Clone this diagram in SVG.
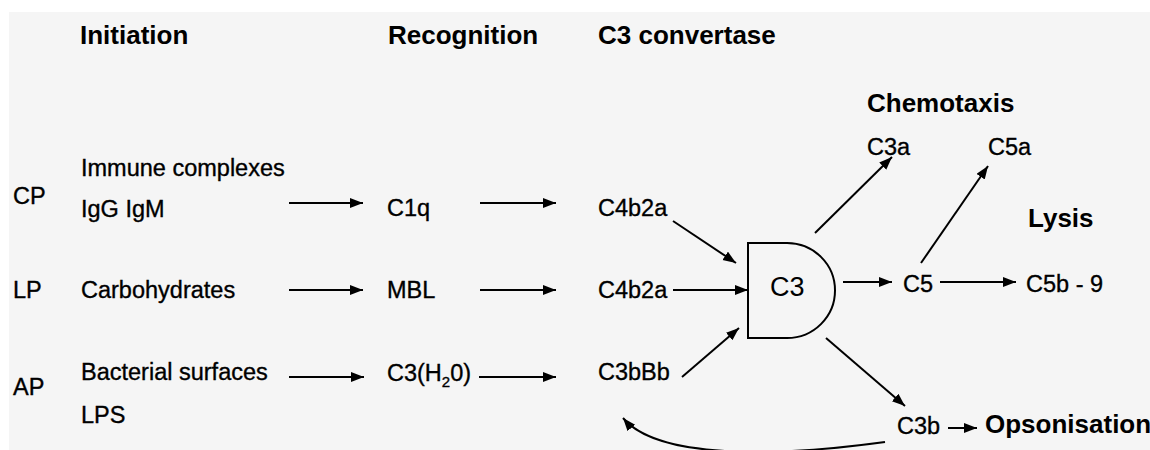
<svg xmlns="http://www.w3.org/2000/svg" width="1150" height="450" viewBox="0 0 1150 450">
<defs>
<marker id="ah" markerUnits="userSpaceOnUse" markerWidth="14" markerHeight="12" refX="13" refY="5" orient="auto">
<path d="M0,0 L13,5 L0,10 Z" fill="#000"/>
</marker>
<style>
.h{font-family:"Liberation Sans",Arial,sans-serif;font-weight:bold;font-size:26px;fill:#000}
.t{font-family:"Liberation Sans",Arial,sans-serif;font-size:23.5px;fill:#000;stroke:#000;stroke-width:0.35}
.c{fill:none;stroke:#000;stroke-width:2}
</style>
</defs>
<rect x="0" y="0" width="1150" height="450" fill="#fff"/>
<rect x="9" y="12" width="1141" height="438" fill="#f5f5f5"/>
<g id="headers">
<text class="h" x="80" y="44">Initiation</text>
<text class="h" x="388" y="44">Recognition</text>
<text class="h" x="598" y="44">C3 convertase</text>
<text class="h" x="867" y="112">Chemotaxis</text>
<text class="h" x="1028" y="227">Lysis</text>
<text class="h" x="985" y="433">Opsonisation</text>
</g>
<g id="pathways">
<text class="t" x="13" y="204">CP</text>
<text class="t" x="13" y="298">LP</text>
<text class="t" x="13" y="395">AP</text>
</g>
<g id="initiation-cp"><text class="t" x="81" y="176">Immune complexes</text><text class="t" x="81" y="217">IgG IgM</text></g>
<g id="initiation-lp"><text class="t" x="81" y="298">Carbohydrates</text></g>
<g id="initiation-ap"><text class="t" x="81" y="380">Bacterial surfaces</text><text class="t" x="81" y="423">LPS</text></g>
<g id="c1q"><text class="t" x="387" y="216">C1q</text></g>
<g id="mbl"><text class="t" x="387" y="298">MBL</text></g>
<g id="c3h2o"><text class="t" x="387" y="381">C3(H<tspan font-size="15" dy="6">2</tspan><tspan dy="-6">0)</tspan></text></g>
<g id="c4b2a-cp"><text class="t" x="598" y="216">C4b2a</text></g>
<g id="c4b2a-lp"><text class="t" x="598" y="298">C4b2a</text></g>
<g id="c3bbb"><text class="t" x="598" y="380">C3bBb</text></g>
<g id="c3">
<path class="c" d="M748,243 H787 A48,47.5 0 0 1 787,338 H748 Z"/>
<text x="770" y="296" font-family="'Liberation Sans',Arial,sans-serif" font-size="27">C3</text>
</g>
<g id="c3a"><text class="t" x="867" y="155" stroke-width="0">C3a</text></g>
<g id="c5a"><text class="t" x="988" y="155" stroke-width="0">C5a</text></g>
<g id="c5"><text class="t" x="903" y="292">C5</text></g>
<g id="c5b9"><text class="t" x="1026" y="292">C5b - 9</text></g>
<g id="c3b"><text class="t" x="897" y="434" stroke-width="0">C3b</text></g>
<g id="connectors" class="c" marker-end="url(#ah)">
<line x1="289" y1="203" x2="363" y2="203"/>
<line x1="480" y1="203" x2="556" y2="203"/>
<line x1="289" y1="290" x2="363" y2="290"/>
<line x1="480" y1="290" x2="556" y2="290"/>
<line x1="673" y1="290" x2="748" y2="290"/>
<line x1="289" y1="377" x2="364" y2="377"/>
<line x1="479" y1="377" x2="556" y2="377"/>
<line x1="673" y1="221" x2="736" y2="263"/>
<line x1="682" y1="377" x2="739" y2="328"/>
<line x1="815" y1="233" x2="892" y2="157"/>
<line x1="843" y1="282" x2="892" y2="282"/>
<line x1="921" y1="263" x2="988" y2="166"/>
<line x1="940" y1="282" x2="1016" y2="282"/>
<line x1="826" y1="338" x2="905" y2="406"/>
<line x1="948" y1="428" x2="977" y2="428"/>
<path d="M885,442 C790,455 660,462 623,418"/>
</g>
</svg>
